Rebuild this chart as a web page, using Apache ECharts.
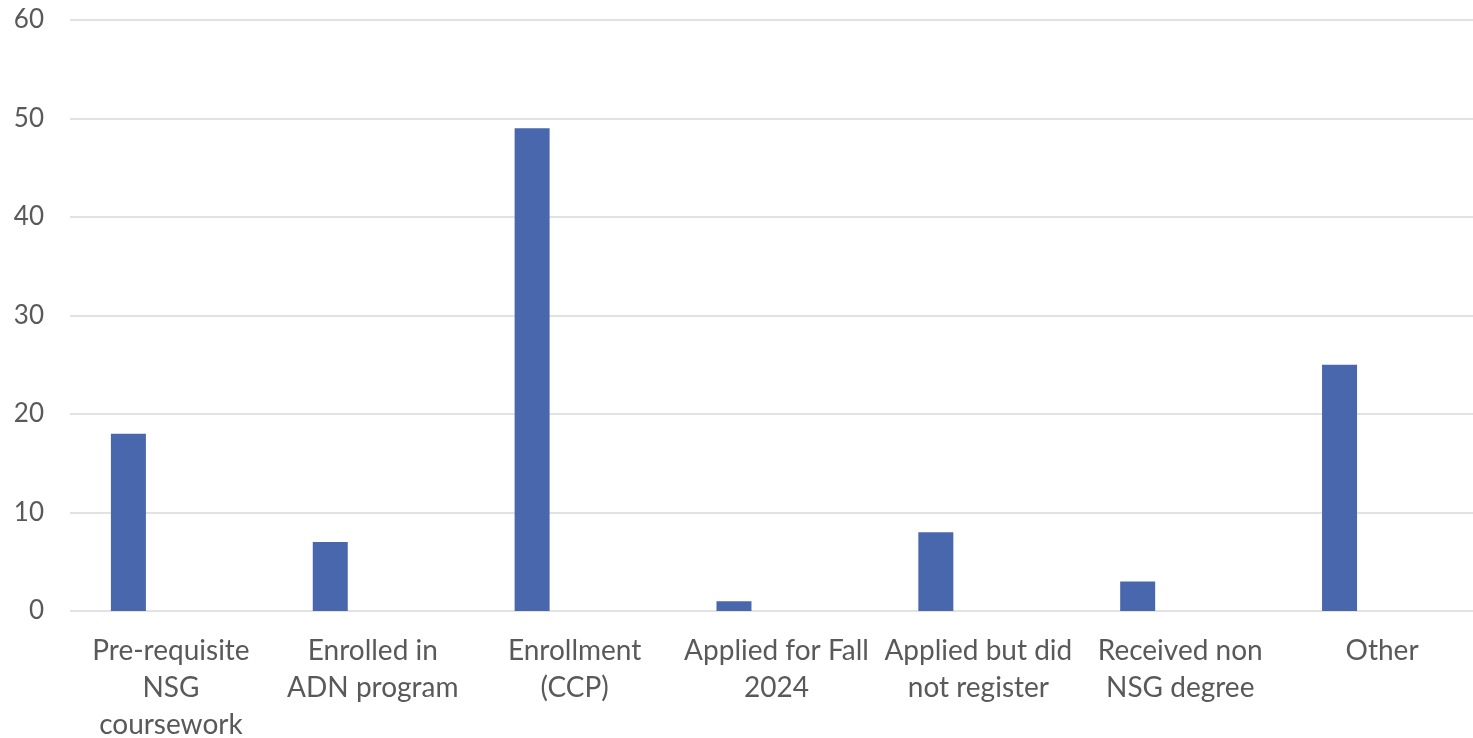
<!DOCTYPE html>
<html>
<head>
<meta charset="utf-8">
<script src="https://cdn.jsdelivr.net/npm/echarts@6/dist/echarts.min.js"></script>
<style>
  html, body { margin: 0; padding: 0; background: #fff; }
  #chart { width: 1473px; height: 738px; }
</style>
</head>
<body>
<div id="chart"></div>
<script>
// category labels (line breaks as in the original chart)
var categories = [
  'Pre-requisite\nNSG\ncoursework',
  'Enrolled in\nADN program',
  'Enrollment\n(CCP)',
  'Applied for Fall\n2024',
  'Applied but did\nnot register',
  'Received non\nNSG degree',
  'Other'
];
var counts = [18, 7, 49, 1, 8, 3, 25];
// second series is empty in the source, it only reserves the slot next to each bar
var emptySeries = [null, null, null, null, null, null, null];

var chart = echarts.init(document.getElementById('chart'));

var option = {
  backgroundColor: '#ffffff',
  animation: false,
  grid: { left: 70, right: -10, top: 20, bottom: 127, outerBoundsMode: 'none', containLabel: false },
  xAxis: {
    type: 'category',
    data: categories,
    axisLine: { show: false },
    axisTick: { show: false },
    axisLabel: {
      interval: 0,
      color: '#595959',
      fontFamily: 'Lato, "Open Sans", sans-serif',
      fontSize: 28,
      lineHeight: 37,
      margin: 21
    }
  },
  yAxis: {
    type: 'value',
    min: 0,
    max: 60,
    interval: 10,
    axisLine: { show: false },
    axisTick: { show: false },
    splitLine: { lineStyle: { color: '#d9d9d9', width: 1.5 } },
    axisLabel: {
      color: '#595959',
      fontFamily: 'Lato, "Open Sans", sans-serif',
      fontSize: 26,
      margin: 26
    }
  },
  series: [
    {
      name: 'Count',
      type: 'bar',
      barWidth: 35,
      barGap: '143%',
      itemStyle: { color: '#4967ad' },
      data: counts
    },
    {
      name: '',
      type: 'bar',
      barWidth: 35,
      data: emptySeries
    }
  ]
};

chart.setOption(option);
</script>
</body>
</html>
